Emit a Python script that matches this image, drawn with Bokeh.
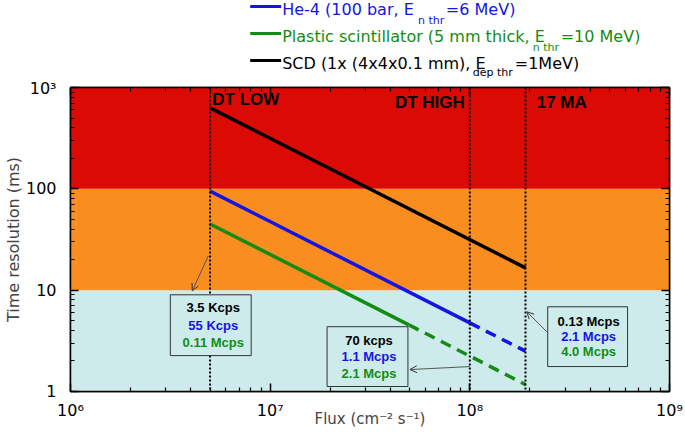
from bokeh.plotting import figure
from bokeh.layouts import column
from bokeh.models import (Span, Label, BoxAnnotation, Arrow, OpenHead, LogAxis,
                          FixedTicker, CustomJSTickFormatter, Range1d)
from bokeh.embed import file_html
from bokeh.resources import INLINE

# ---------------- data ----------------
x_range_lim = [1e6, 1e9]
y_range_lim = [1, 1000]

band_lo = [1, 10, 100]
band_hi = [10, 100, 1000]
band_colors = ["#CDEBEA", "#F98D20", "#DC0A05"]

thresholds = [5e6, 1e8, 1.9e8]
threshold_names = ["DT LOW", "DT HIGH", "17 MA"]

scd_flux = [5e6, 1.9e8]
scd_time = [630, 16.6]

he4_flux_solid = [5e6, 1e8]
he4_time_solid = [95, 4.75]
he4_flux_dash = [1e8, 1.9e8]
he4_time_dash = [4.75, 2.5]

pl_flux_solid = [5e6, 4.95e7]
pl_time_solid = [45, 4.55]
pl_flux_dash = [4.95e7, 1.9e8]
pl_time_dash = [4.55, 1.17]

x_ticks = [1e6, 1e7, 1e8, 1e9]
x_tick_labels = ["10⁶", "10⁷", "10⁸", "10⁹"]
y_ticks = [1, 10, 100, 1000]
y_tick_labels = ["1", "10", "100", "10³"]

box1_texts = ["3.5 Kcps", "55 Kcps", "0.11 Mcps"]
box2_texts = ["70 kcps", "1.1 Mcps", "2.1 Mcps"]
box3_texts = ["0.13 Mcps", "2.1 Mcps", "4.0 Mcps"]

BLUE = "#1414E6"
GREEN = "#148C14"
BLACK = "#000000"
text_colors = [BLACK, BLUE, GREEN]

FONT = "DejaVu Sans"
BFONT = "Liberation Sans"

# ---------------- layout constants (page pixels) ----------------
OFF = 1
W = 683
LEG_H = 78
TOP_B = 9
MAIN_H = 432 - OFF - LEG_H - 1
FL, FR = 70, 670

# ---------------- legend strip ----------------
leg = figure(width=W, height=LEG_H, x_range=Range1d(FL, FR), y_range=Range1d(OFF + LEG_H, OFF),
             output_backend="svg", toolbar_location=None, min_border=0,
             min_border_left=FL - OFF, min_border_right=W - (FR - OFF))
leg.axis.visible = False
leg.grid.visible = False
leg.outline_line_color = None

legend_rows = [
    (BLUE, 7, 10, "He-4 (100 bar, E", 418, 21, "n thr", 446, "=6 MeV)"),
    (GREEN, 34, 37, "Plastic scintillator (5 mm thick, E", 533, 48, "n thr", 561, "=10 MeV)"),
    (BLACK, 61, 64, "SCD (1x (4x4x0.1 mm), E", 473, 73, "dep thr", 515, "=1MeV)"),
]
for color, lyy, ty, main, sx, sy, sub, ex, tail in legend_rows:
    leg.add_layout(Arrow(x_start=250, y_start=lyy, x_end=281, y_end=lyy,
                         end=None, line_color=color, line_width=3))
    leg.add_layout(Label(x=282, y=ty, text=main, text_align="left",
                         text_baseline="middle", text_font=FONT, text_font_size="16px",
                         text_color=color))
    leg.add_layout(Label(x=sx, y=sy, text=sub, text_align="left",
                         text_baseline="middle", text_font=FONT, text_font_size="11px",
                         text_color=color))
    leg.add_layout(Label(x=ex, y=ty, text=tail, text_align="left",
                         text_baseline="middle", text_font=FONT, text_font_size="16px",
                         text_color=color))

# ---------------- main figure ----------------
p = figure(width=W, height=MAIN_H, x_axis_type="log", y_axis_type="log",
           x_range=Range1d(*x_range_lim), y_range=Range1d(*y_range_lim),
           output_backend="svg", toolbar_location=None,
           min_border_left=FL - OFF, min_border_right=W - (FR - OFF),
           min_border_top=TOP_B, min_border_bottom=36)
p.grid.visible = False
p.outline_line_color = "black"
p.outline_line_width = 1.5

# page pixel -> data coordinate helpers for placing annotations inside the frame
def dx(X):
    return 10 ** (6 + (X - 70) / 200.0)
def dy(Y):
    return 10 ** (3 - (Y - 88) / 101.67)

# bands
p.quad(left=[x_range_lim[0]] * 3, right=[x_range_lim[1]] * 3, bottom=band_lo, top=band_hi,
       fill_color=band_colors, line_color=None)

# threshold lines
for t in thresholds:
    p.add_layout(Span(location=t, dimension="height", line_color="black",
                      line_width=2, line_dash="2 2"))

# curves
p.line(scd_flux, scd_time, line_color=BLACK, line_width=3.5)
p.line(he4_flux_solid, he4_time_solid, line_color=BLUE, line_width=3.5)
p.line(he4_flux_dash, he4_time_dash, line_color=BLUE, line_width=3.5, line_dash="11 7")
p.line(pl_flux_solid, pl_time_solid, line_color=GREEN, line_width=3.5)
p.line(pl_flux_dash, pl_time_dash, line_color=GREEN, line_width=3.5, line_dash="11 7")

# axes
minor_x = [m * 10 ** e for e in range(6, 9) for m in range(2, 10)]
minor_y = [m * 10 ** e for e in range(0, 3) for m in range(2, 10)]
for ax in [p.xaxis[0], p.yaxis[0]]:
    ax.axis_line_width = 1.5
    ax.major_tick_in = 8
    ax.major_tick_out = 0
    ax.minor_tick_in = 4
    ax.minor_tick_out = 0
    ax.major_tick_line_width = 1.5
    ax.minor_tick_line_width = 1.2
    ax.major_label_text_font = FONT
    ax.major_label_text_font_size = "16px"
    ax.major_label_text_color = "black"
p.xaxis[0].ticker = FixedTicker(ticks=x_ticks, minor_ticks=minor_x)
p.yaxis[0].ticker = FixedTicker(ticks=y_ticks, minor_ticks=minor_y)
p.xaxis[0].major_label_overrides = dict(zip(x_ticks, x_tick_labels))
ylab_map = "{" + ",".join(f"{int(t)}: '{s}'" for t, s in zip(y_ticks, y_tick_labels)) + "}"
p.yaxis[0].formatter = CustomJSTickFormatter(
    code=f"const m = {ylab_map}; const k = Math.round(tick); return (k in m) ? m[k] : '';")
p.yaxis[0].major_label_text_align = "right"
p.xaxis[0].major_label_standoff = 9
p.yaxis[0].major_label_standoff = 14
p.yaxis[0].axis_label = "Time resolution (ms)"
p.yaxis[0].axis_label_text_font = FONT
p.yaxis[0].axis_label_text_font_size = "16px"
p.yaxis[0].axis_label_text_font_style = "normal"
p.yaxis[0].axis_label_standoff = 0
p.xaxis[0].axis_label = "Flux (cm⁻² s⁻¹)"
p.xaxis[0].axis_label_text_font = FONT
p.xaxis[0].axis_label_text_font_size = "15px"
p.xaxis[0].axis_label_text_font_style = "normal"
p.xaxis[0].axis_label_standoff = -13

blank = CustomJSTickFormatter(code="return ''")
top_ax = LogAxis(ticker=FixedTicker(ticks=x_ticks, minor_ticks=minor_x), formatter=blank,
                 major_tick_in=8, major_tick_out=0, minor_tick_in=4, minor_tick_out=0,
                 axis_line_width=1.5, major_tick_line_width=1.5, minor_tick_line_width=1.2,
                 major_label_standoff=0, major_label_text_font_size="0px")
right_ax = LogAxis(ticker=FixedTicker(ticks=y_ticks, minor_ticks=minor_y), formatter=blank,
                   major_tick_in=8, major_tick_out=0, minor_tick_in=4, minor_tick_out=0,
                   axis_line_width=1.5, major_tick_line_width=1.5, minor_tick_line_width=1.2,
                   major_label_standoff=0, major_label_text_font_size="0px")
p.add_layout(top_ax, "above")
p.add_layout(right_ax, "right")

# region labels
region_pos = [(212, 100), (395, 103), (537, 103)]
for name, (X, Y) in zip(threshold_names, region_pos):
    p.add_layout(Label(x=dx(X), y=dy(Y), text=name,
                       text_align="left", text_baseline="middle", text_font=BFONT,
                       text_font_style="bold", text_font_size="17px", text_color="black"))

# annotation boxes
def add_box(left, right, top, bottom, texts, cx, ys):
    p.add_layout(BoxAnnotation(left=dx(left), right=dx(right), top=dy(top), bottom=dy(bottom),
                               fill_color="#CDEBEA", fill_alpha=1,
                               line_color="#333333", line_width=1, line_alpha=1))
    for t, c, Y in zip(texts, text_colors, ys):
        p.add_layout(Label(x=dx(cx), y=dy(Y), text=t,
                           text_align="center", text_baseline="middle", text_font=BFONT,
                           text_font_style="bold", text_font_size="13px", text_color=c))

add_box(170, 251, 296, 357, box1_texts, 213, [309, 327, 344])
add_box(327, 408, 328, 388, box2_texts, 369, [342, 358, 375])
add_box(548, 628, 308, 368, box3_texts, 589, [323, 338, 353])

# arrows
for (x0, y0, x1, y1) in [(208, 257, 192, 292), (470, 368, 410, 371), (547, 333, 527, 313)]:
    p.add_layout(Arrow(x_start=dx(x0), y_start=dy(y0), x_end=dx(x1), y_end=dy(y1),
                       line_color="#555555", line_width=1,
                       end=OpenHead(size=7, line_color="#333333", line_width=1)))

layout = column(leg, p, spacing=0)
open("out.html", "w").write(file_html(layout, INLINE))
